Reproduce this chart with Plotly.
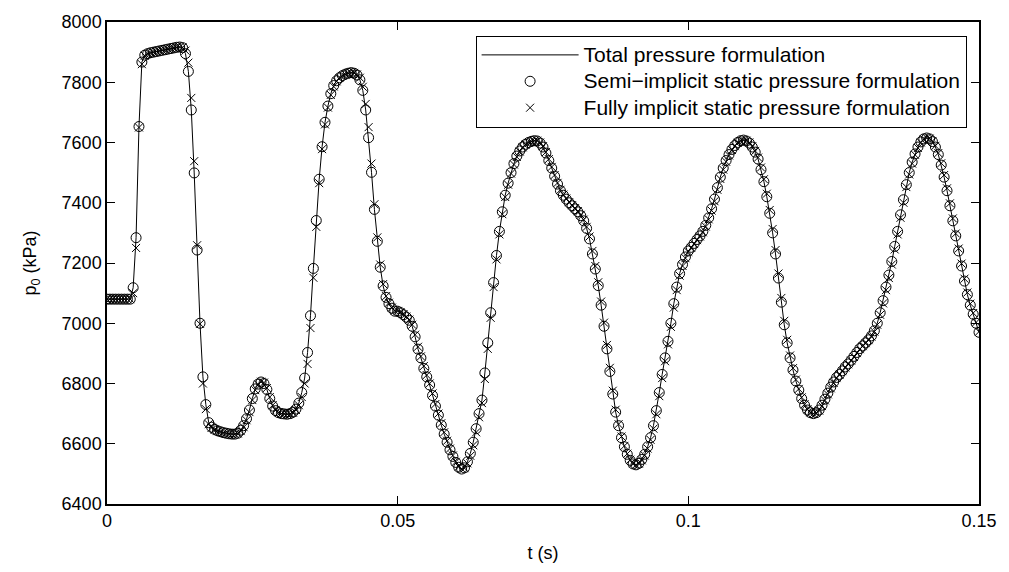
import plotly.graph_objects as go

# time grid labels (s) : every 0.0005 s from 0 to 0.15
t_start = 0.0
t_step = 0.0005

# Total pressure formulation (kPa), one value per 0.0005 s
p_total = [
    7080, 7080, 7080, 7080, 7080, 7080, 7080, 7080, 7080, 7118,
    7284, 7653, 7867, 7890, 7895, 7898, 7900, 7902, 7904, 7906,
    7908, 7910, 7912, 7914, 7916, 7917, 7915, 7895, 7836, 7708,
    7499, 7243, 7000, 6822, 6730, 6670, 6655, 6648, 6643, 6640,
    6637, 6635, 6633, 6632, 6632, 6635, 6645, 6660, 6683, 6712,
    6750, 6782, 6798, 6805, 6800, 6780, 6750, 6725, 6710, 6703,
    6700, 6699, 6698, 6700, 6705, 6715, 6735, 6770, 6818, 6903,
    7025, 7182, 7341, 7478, 7586, 7667, 7721, 7762, 7789, 7805,
    7815, 7822, 7827, 7830, 7832, 7830, 7824, 7808, 7773, 7708,
    7616, 7501, 7378, 7272, 7186, 7124, 7086, 7065, 7050, 7040,
    7040, 7035, 7028, 7020, 7010, 6990, 6955, 6914, 6885, 6850,
    6822, 6795, 6760, 6725, 6695, 6662, 6632, 6605, 6580, 6558,
    6538, 6522, 6516, 6520, 6540, 6568, 6605, 6650, 6700, 6745,
    6835, 6935, 7035, 7135, 7225, 7305, 7370, 7425, 7465, 7500,
    7530, 7555, 7572, 7585, 7594, 7600, 7604, 7606, 7605, 7598,
    7585, 7565, 7540, 7515, 7488, 7462, 7440, 7425, 7412, 7400,
    7390, 7380, 7370, 7357, 7340, 7315, 7280, 7230, 7180, 7125,
    7060, 6990, 6915, 6840, 6765, 6705, 6660, 6620, 6590, 6565,
    6545, 6533, 6530, 6535, 6548, 6565, 6590, 6620, 6660, 6710,
    6770, 6830, 6885, 6940, 7000, 7065, 7120, 7165, 7195, 7220,
    7240, 7252, 7265, 7278, 7290, 7305, 7325, 7350, 7380, 7412,
    7450, 7485, 7515, 7540, 7560, 7577, 7590, 7600, 7606, 7608,
    7605, 7598, 7585, 7568, 7545, 7510, 7470, 7420, 7365, 7300,
    7230, 7150, 7070, 6995, 6935, 6885, 6845, 6808, 6778, 6750,
    6728, 6712, 6703, 6700, 6703, 6712, 6728, 6748, 6768, 6788,
    6805, 6820, 6830, 6842, 6855, 6865, 6877, 6890, 6903, 6916,
    6925, 6935, 6945, 6958, 6975, 7000, 7035, 7075, 7120, 7160,
    7205, 7255, 7305, 7360, 7410, 7460, 7500, 7535, 7562, 7585,
    7602, 7612, 7615, 7612, 7603, 7585, 7560, 7525, 7485, 7440,
    7390, 7340, 7290, 7240, 7190, 7140, 7095, 7060, 7030, 7000,
    6970,
]

# Semi-implicit static pressure formulation (kPa)
p_semi = [
    7080, 7080, 7080, 7080, 7080, 7080, 7080, 7080, 7080, 7118,
    7284, 7653, 7867, 7890, 7895, 7898, 7900, 7902, 7904, 7906,
    7908, 7910, 7912, 7914, 7916, 7917, 7915, 7895, 7836, 7708,
    7499, 7243, 7000, 6822, 6730, 6670, 6655, 6648, 6643, 6640,
    6637, 6635, 6633, 6632, 6632, 6635, 6645, 6660, 6683, 6712,
    6750, 6782, 6798, 6805, 6800, 6780, 6750, 6725, 6710, 6703,
    6700, 6699, 6698, 6700, 6705, 6715, 6735, 6770, 6818, 6903,
    7025, 7182, 7341, 7478, 7586, 7667, 7721, 7762, 7789, 7805,
    7815, 7822, 7827, 7830, 7832, 7830, 7824, 7808, 7773, 7708,
    7616, 7501, 7378, 7272, 7186, 7124, 7086, 7065, 7050, 7040,
    7040, 7035, 7028, 7020, 7010, 6990, 6955, 6914, 6885, 6850,
    6822, 6795, 6760, 6725, 6695, 6662, 6632, 6605, 6580, 6558,
    6538, 6522, 6516, 6520, 6540, 6568, 6605, 6650, 6700, 6745,
    6835, 6935, 7035, 7135, 7225, 7305, 7370, 7425, 7465, 7500,
    7530, 7555, 7572, 7585, 7594, 7600, 7604, 7606, 7605, 7598,
    7585, 7565, 7540, 7515, 7488, 7462, 7440, 7425, 7412, 7400,
    7390, 7380, 7370, 7357, 7340, 7315, 7280, 7230, 7180, 7125,
    7060, 6990, 6915, 6840, 6765, 6705, 6660, 6620, 6590, 6565,
    6545, 6533, 6530, 6535, 6548, 6565, 6590, 6620, 6660, 6710,
    6770, 6830, 6885, 6940, 7000, 7065, 7120, 7165, 7195, 7220,
    7240, 7252, 7265, 7278, 7290, 7305, 7325, 7350, 7380, 7412,
    7450, 7485, 7515, 7540, 7560, 7577, 7590, 7600, 7606, 7608,
    7605, 7598, 7585, 7568, 7545, 7510, 7470, 7420, 7365, 7300,
    7230, 7150, 7070, 6995, 6935, 6885, 6845, 6808, 6778, 6750,
    6728, 6712, 6703, 6700, 6703, 6712, 6728, 6748, 6768, 6788,
    6805, 6820, 6830, 6842, 6855, 6865, 6877, 6890, 6903, 6916,
    6925, 6935, 6945, 6958, 6975, 7000, 7035, 7075, 7120, 7160,
    7205, 7255, 7305, 7360, 7410, 7460, 7500, 7535, 7562, 7585,
    7602, 7612, 7615, 7612, 7603, 7585, 7560, 7525, 7485, 7440,
    7390, 7340, 7290, 7240, 7190, 7140, 7095, 7060, 7030, 7000,
    6970,
]

# Fully implicit static pressure formulation (kPa)
p_fully = [
    7080, 7080, 7080, 7080, 7080, 7080, 7080, 7080, 7080, 7100,
    7250, 7650, 7860, 7888, 7894, 7897, 7900, 7902, 7904, 7906,
    7908, 7910, 7912, 7914, 7916, 7917, 7916, 7905, 7865, 7748,
    7538, 7259, 6998, 6800, 6715, 6665, 6653, 6647, 6642, 6639,
    6636, 6634, 6632, 6631, 6632, 6634, 6642, 6655, 6678, 6705,
    6745, 6778, 6797, 6806, 6803, 6785, 6755, 6728, 6712, 6704,
    6700, 6699, 6698, 6699, 6703, 6712, 6728, 6755, 6800, 6865,
    6984, 7151, 7320, 7465, 7578, 7660, 7716, 7758, 7786, 7803,
    7814, 7821, 7826, 7830, 7832, 7831, 7826, 7815, 7785, 7728,
    7651, 7530, 7395, 7285, 7195, 7130, 7090, 7068, 7052, 7042,
    7041, 7036, 7030, 7022, 7012, 6995, 6962, 6922, 6890, 6858,
    6828, 6800, 6767, 6732, 6700, 6668, 6638, 6610, 6584, 6561,
    6540, 6524, 6517, 6519, 6535, 6560, 6595, 6638, 6688, 6735,
    6815, 6915, 7018, 7120, 7212, 7295, 7362, 7419, 7460, 7497,
    7527, 7552, 7570, 7584, 7593, 7599, 7603, 7606, 7606, 7600,
    7588, 7568, 7545, 7519, 7492, 7466, 7443, 7427, 7414, 7402,
    7392, 7382, 7372, 7360, 7344, 7320, 7288, 7240, 7190, 7136,
    7072, 7002, 6928, 6852, 6776, 6713, 6665, 6624, 6593, 6567,
    6547, 6534, 6530, 6534, 6545, 6561, 6584, 6613, 6650, 6698,
    6758, 6818, 6874, 6930, 6988, 7052, 7110, 7158, 7190, 7216,
    7237, 7250, 7263, 7276, 7288, 7302, 7321, 7345, 7374, 7405,
    7443, 7479, 7510, 7536, 7557, 7575, 7588, 7599, 7605, 7608,
    7606, 7600, 7588, 7572, 7550, 7517, 7478, 7430, 7376, 7313,
    7243, 7165, 7084, 7008, 6945, 6893, 6851, 6813, 6782, 6754,
    6731, 6714, 6704, 6700, 6702, 6710, 6725, 6744, 6764, 6784,
    6802, 6818, 6829, 6841, 6853, 6864, 6876, 6888, 6901, 6914,
    6924, 6934, 6944, 6956, 6972, 6995, 7028, 7066, 7110, 7150,
    7195, 7245, 7295, 7350, 7400, 7452, 7494, 7530, 7559, 7582,
    7600, 7611, 7615, 7613, 7605, 7589, 7565, 7531, 7492, 7448,
    7398, 7348, 7298, 7248, 7198, 7148, 7102, 7065, 7034, 7003,
    6972,
]

series_names = [
    "Total pressure formulation",
    "Semi\u2212implicit static pressure formulation",
    "Fully implicit static pressure formulation",
]

x_ticks = [0, 0.05, 0.1, 0.15]
x_tick_labels = ["0", "0.05", "0.1", "0.15"]
y_ticks = [6400, 6600, 6800, 7000, 7200, 7400, 7600, 7800, 8000]

t = [round(t_start + i * t_step, 6) for i in range(len(p_total))]

FONT = "Liberation Sans, Arial, Helvetica, sans-serif"


def legend_label(s):
    return "<span style='font-size:21px'>" + s + "</span>"


fig = go.Figure()
fig.add_trace(go.Scatter(
    x=t, y=p_total, mode="lines", name=legend_label(series_names[0]),
    line=dict(color="black", width=1),
))
fig.add_trace(go.Scatter(
    x=t, y=p_semi, mode="markers", name=legend_label(series_names[1]),
    marker=dict(symbol="circle-open", size=10, color="black", line=dict(width=1, color="black")),
))
fig.add_trace(go.Scatter(
    x=t, y=p_fully, mode="markers", name=legend_label(series_names[2]),
    marker=dict(symbol="x-thin-open", size=8, color="black", line=dict(width=1, color="black")),
))

axis_common = dict(
    showline=True, linecolor="black", linewidth=1.5, mirror="ticks",
    ticks="inside", ticklen=8, tickwidth=1, tickcolor="black",
    showgrid=False, zeroline=False,
    tickfont=dict(family=FONT, size=18, color="black"),
)

fig.update_xaxes(
    range=[0, 0.15], tickvals=x_ticks, ticktext=x_tick_labels,
    title=dict(text="t (s)", font=dict(family=FONT, size=18, color="black"), standoff=16),
    **axis_common,
)
fig.update_yaxes(
    range=[6400, 8000], tickvals=y_ticks,
    title=dict(text="p<sub>0</sub> (kPa)", font=dict(family=FONT, size=18, color="black"), standoff=20),
    **axis_common,
)

fig.update_layout(
    width=1009, height=572,
    margin=dict(l=107, r=22, t=18, b=61),
    paper_bgcolor="white", plot_bgcolor="white",
    font=dict(family=FONT, size=18, color="black"),
    showlegend=True,
    legend=dict(
        x=0.4227, y=0.9716, xanchor="left", yanchor="top",
        bgcolor="white", bordercolor="black", borderwidth=1,
        font=dict(family=FONT, size=18, color="black"),
        itemwidth=97, tracegroupgap=0,
    ),
)

fig.write_html(
    "out.html",
    config={"displayModeBar": False},
    post_script="document.body.style.margin='0';document.body.style.padding='0';",
)
